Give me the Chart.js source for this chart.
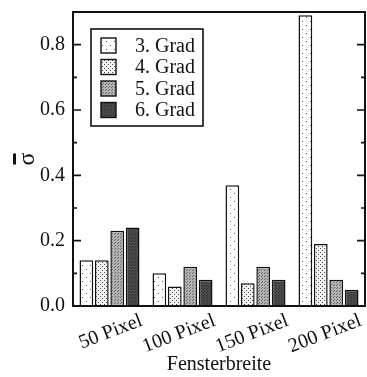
<!DOCTYPE html>
<html>
<head>
<meta charset="utf-8">
<script src="https://cdn.jsdelivr.net/npm/chart.js"></script>
<style>
  html, body { margin: 0; padding: 0; background: #fff; }
</style>
</head>
<body>
<canvas id="chart" width="367" height="377"></canvas>
<script>
const categories = ["50 Pixel", "100 Pixel", "150 Pixel", "200 Pixel"];
const seriesLabels = ["3. Grad", "4. Grad", "5. Grad", "6. Grad"];
const grad3 = [0.14, 0.10, 0.37, 0.89];
const grad4 = [0.14, 0.06, 0.07, 0.19];
const grad5 = [0.23, 0.12, 0.12, 0.08];
const grad6 = [0.24, 0.08, 0.08, 0.05];
const yTickLabels = ["0.0", "0.2", "0.4", "0.6", "0.8"];
const yTitle = "\u03C3";

const ink = "#111";
const serif = "'Liberation Serif', 'DejaVu Serif', serif";

// small repeating tiles for the hatched bar fills
function makePattern(bg, dot, size, dots) {
  const c = document.createElement("canvas");
  c.width = size;
  c.height = size;
  const g = c.getContext("2d");
  g.fillStyle = bg;
  g.fillRect(0, 0, size, size);
  g.fillStyle = dot;
  dots.forEach(([x, y]) => g.fillRect(x, y, 1, 1));
  return g.createPattern(c, "repeat");
}

const fills = [
  makePattern("#fff", "#555", 8, [[2, 1], [6, 5]]),
  makePattern("#f4f4f4", "#444", 4, [[0, 0], [2, 2]]),
  makePattern("#b4b4b4", "#666", 3, [[0, 0], [1, 2]]),
  makePattern("#4a4a4a", "#333", 3, [[0, 0], [2, 1]]),
];

const values = [grad3, grad4, grad5, grad6];

// frame, inward tick marks, the y title with its bar, and the boxed legend
const decorations = {
  id: "decorations",
  afterDatasetsDraw(chart) {
    const ctx = chart.ctx;
    const a = chart.chartArea;
    const y = chart.scales.y;
    ctx.save();
    ctx.strokeStyle = ink;
    ctx.lineWidth = 2;
    ctx.strokeRect(a.left, a.top, a.right - a.left, a.bottom - a.top);

    ctx.lineWidth = 1.6;
    y.ticks.forEach((t, i) => {
      const py = y.getPixelForValue(t.value);
      const len = i % 2 === 0 ? 8 : 4;
      ctx.beginPath();
      ctx.moveTo(a.left, py);
      ctx.lineTo(a.left + len, py);
      ctx.moveTo(a.right, py);
      ctx.lineTo(a.right - len, py);
      ctx.stroke();
    });

    // rotated sigma with an overbar
    ctx.save();
    ctx.translate(34, (a.top + a.bottom) / 2);
    ctx.rotate(-Math.PI / 2);
    ctx.fillStyle = ink;
    ctx.font = "24px " + serif;
    ctx.textAlign = "center";
    ctx.textBaseline = "alphabetic";
    ctx.fillText(yTitle, 0, 0);
    ctx.fillRect(-5.5, -21, 11, 3);
    ctx.restore();

    ctx.font = "20px " + serif;
    ctx.textBaseline = "middle";
    const boxLeft = a.left + 18;
    const boxTop = a.top + 17;
    const rowH = 21.5;
    const swX = boxLeft + 10;
    const textX = boxLeft + 44;
    let maxW = 0;
    chart.data.datasets.forEach(ds => {
      maxW = Math.max(maxW, ctx.measureText(ds.label).width);
    });
    const boxW = textX + maxW + 8 - boxLeft;
    const boxH = rowH * 4 + 11;
    ctx.fillStyle = "#fff";
    ctx.fillRect(boxLeft, boxTop, boxW, boxH);
    ctx.lineWidth = 1.6;
    ctx.strokeRect(boxLeft, boxTop, boxW, boxH);

    chart.data.datasets.forEach((ds, i) => {
      const cy = boxTop + 16.5 + i * rowH;
      ctx.fillStyle = ds.backgroundColor;
      ctx.fillRect(swX, cy - 7.5, 15, 15);
      ctx.lineWidth = 1.4;
      ctx.strokeRect(swX, cy - 7.5, 15, 15);
      ctx.fillStyle = ink;
      ctx.fillText(ds.label, textX, cy + 1);
    });
    ctx.restore();
  }
};

new Chart(document.getElementById("chart"), {
  type: "bar",
  data: {
    labels: categories,
    datasets: seriesLabels.map((label, i) => ({
      label: label,
      data: values[i],
      backgroundColor: fills[i],
      borderColor: ink,
      borderWidth: 1.5,
      categoryPercentage: 0.845,
      barPercentage: 0.89,
    })),
  },
  options: {
    responsive: false,
    animation: false,
    devicePixelRatio: 1,
    layout: { padding: { top: 12, right: 2, left: 0, bottom: 0 } },
    plugins: {
      legend: { display: false },
      tooltip: { enabled: false },
    },
    scales: {
      x: {
        grid: { display: false, drawTicks: false },
        border: { display: false },
        ticks: {
          autoSkip: false,
          minRotation: 21,
          maxRotation: 21,
          labelOffset: 32,
          padding: 3,
          color: ink,
          font: { family: serif, size: 20 },
        },
        title: {
          display: true,
          text: "Fensterbreite",
          color: ink,
          font: { family: serif, size: 20 },
          padding: { top: 0, bottom: 0 },
        },
        afterFit: (s) => {
          s.height = 71;
          s.paddingLeft = 0;
          s.paddingRight = 0;
        },
      },
      y: {
        min: 0,
        max: 0.9,
        grid: { display: false, drawTicks: false },
        border: { display: false },
        ticks: {
          stepSize: 0.1,
          autoSkip: false,
          padding: 8,
          color: ink,
          font: { family: serif, size: 20 },
          callback: (v, i) => (i % 2 === 0 ? yTickLabels[i / 2] : ""),
        },
        afterFit: (s) => {
          s.width = 73;
          s.paddingTop = 0;
          s.paddingBottom = 0;
        },
      },
    },
  },
  plugins: [decorations],
});
</script>
</body>
</html>
